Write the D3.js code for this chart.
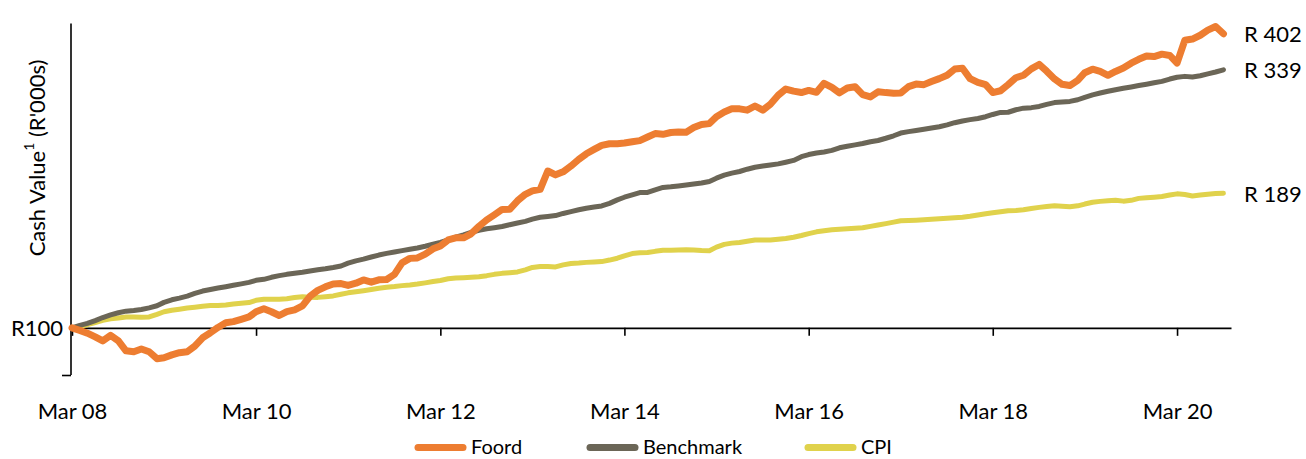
<!DOCTYPE html>
<html>
<head>
<meta charset="utf-8">
<script src="https://cdn.jsdelivr.net/npm/d3@7"></script>
<style>
  html, body { margin: 0; padding: 0; background: #ffffff; }
  svg { display: block; }
  text { font-family: Lato, "Open Sans", sans-serif; fill: #000; }
</style>
</head>
<body>
<svg id="chart" width="1306" height="459"></svg>
<script>
// ---- data (monthly, Mar 2008 .. Sep 2020, R'000s on R100 invested) ----
const startMonth = "2008-03-01";
const foord = [
  100, 98.8, 97.5, 95.8, 94.0, 96.5, 94.0, 89.7, 89.3, 90.5, 89.3, 86.4,
  86.8, 88.0, 88.9, 89.3, 91.7, 95.4, 97.7, 100.2, 102.4, 103.0, 104.1, 105.3,
  107.9, 109.4, 107.9, 106.0, 108.0, 108.9, 110.9, 116.1, 119.4, 121.4, 123.1, 123.3,
  122.2, 123.5, 125.4, 124.1, 125.5, 125.7, 128.8, 136.0, 138.9, 139.2, 141.7, 145.3,
  147.3, 151.6, 153.1, 153.1, 156.0, 161.6, 166.7, 170.7, 175.1, 175.2, 182.4, 188.1,
  191.2, 192.6, 210.0, 206.2, 209.2, 215.0, 221.9, 227.8, 232.6, 237.1, 238.9, 239.0,
  239.7, 241.2, 242.5, 246.6, 250.7, 249.8, 252.0, 252.5, 252.4, 257.9, 261.7, 262.8,
  271.6, 277.6, 281.8, 281.8, 280.1, 285.6, 280.1, 288.0, 300.5, 309.5, 306.4, 304.4,
  307.4, 304.7, 318.0, 312.0, 303.9, 311.0, 312.8, 301.4, 298.2, 305.5, 304.3, 303.4,
  303.7, 313.0, 316.8, 316.0, 320.7, 325.1, 330.4, 340.1, 341.5, 325.1, 319.3, 316.0,
  304.4, 307.0, 316.0, 326.5, 330.4, 340.5, 347.7, 336.7, 324.6, 316.5, 314.6, 322.5,
  334.3, 339.9, 336.4, 330.3, 336.4, 341.8, 349.8, 356.2, 361.9, 360.9, 365.0, 362.8,
  350.0, 390.0, 392.1, 399.2, 409.0, 416.0, 402.0
];
const benchmark = [
  100, 101.2, 102.1, 103.5, 105.0, 106.3, 107.4, 108.2, 108.6, 109.1, 109.9, 111.0,
  112.8, 114.2, 115.1, 116.2, 117.7, 119.0, 119.9, 120.7, 121.5, 122.3, 123.1, 124.0,
  125.2, 125.8, 127.0, 128.0, 128.8, 129.5, 130.1, 130.9, 131.6, 132.2, 133.0, 134.0,
  135.8, 137.3, 138.4, 139.8, 141.1, 142.2, 143.2, 144.1, 145.0, 145.9, 147.1, 148.5,
  149.8, 151.6, 153.6, 155.2, 157.1, 158.7, 159.8, 160.6, 161.5, 162.9, 164.2, 165.5,
  167.2, 168.7, 169.4, 170.1, 171.8, 173.3, 174.8, 176.1, 177.1, 178.0, 180.2, 183.2,
  185.5, 187.6, 189.6, 189.8, 192.1, 194.3, 194.9, 195.7, 196.6, 197.5, 198.4, 199.9,
  203.0, 205.9, 207.9, 209.5, 211.8, 213.8, 215.0, 216.1, 217.2, 218.9, 220.8, 224.7,
  227.0, 228.6, 229.8, 231.5, 234.4, 236.1, 237.6, 239.2, 241.2, 242.6, 245.2, 248.1,
  251.3, 253.0, 254.4, 255.8, 257.3, 258.9, 261.2, 263.9, 266.1, 267.8, 269.3, 271.5,
  274.4, 277.1, 277.3, 280.6, 282.7, 283.4, 285.0, 287.8, 290.3, 291.1, 291.9, 294.2,
  297.6, 301.1, 303.7, 306.2, 308.5, 310.6, 312.5, 314.6, 316.6, 318.8, 320.9, 324.5,
  327.3, 328.6, 327.5, 329.5, 332.5, 335.5, 339.0
];
const cpi = [
  100, 100.7, 101.5, 102.5, 103.6, 104.4, 104.8, 105.3, 105.3, 105.1, 105.3, 106.6,
  107.9, 108.7, 109.2, 109.8, 110.2, 110.7, 111.1, 111.2, 111.4, 111.9, 112.3, 112.7,
  113.9, 114.5, 114.5, 114.5, 114.8, 115.4, 115.8, 115.6, 115.5, 115.9, 116.3, 117.2,
  118.0, 118.6, 119.2, 119.9, 120.6, 121.2, 121.6, 122.1, 122.5, 123.0, 123.7, 124.5,
  125.1, 126.1, 126.6, 126.8, 127.0, 127.3, 128.0, 128.8, 129.4, 129.8, 130.3, 131.6,
  133.1, 133.7, 133.6, 133.4, 134.7, 135.6, 135.9, 136.3, 136.5, 136.8, 137.8, 139.0,
  140.6, 142.1, 142.6, 142.8, 143.6, 144.3, 144.4, 144.6, 144.7, 144.5, 144.1, 144.0,
  146.5, 148.4, 149.3, 149.7, 150.6, 151.5, 151.5, 151.5, 152.0, 152.6, 153.5, 154.8,
  156.2, 157.5, 158.3, 159.0, 159.5, 159.8, 160.1, 160.5, 161.6, 162.6, 163.7, 164.9,
  165.9, 166.2, 166.4, 166.7, 167.1, 167.5, 167.9, 168.4, 168.7, 169.5, 170.5, 171.5,
  172.3, 173.1, 174.0, 174.3, 174.8, 175.9, 176.8, 177.5, 178.1, 177.7, 177.4, 178.1,
  179.6, 181.1, 181.9, 182.4, 182.9, 182.1, 182.8, 184.5, 185.0, 185.5, 186.1, 187.4,
  188.5, 187.9, 186.6, 187.4, 188.2, 188.8, 189.0
];
const seriesNames = ["Foord", "Benchmark", "CPI"];
const endLabels = ["R 402", "R 339", "R 189"];
const tickYears = [2008, 2010, 2012, 2014, 2016, 2018, 2020];
const baseLabel = "R100";

// ---- layout ----
const svg = d3.select("#chart");
const start = new Date(startMonth + "T00:00:00Z");
const dates = foord.map((_, i) => d3.utcMonth.offset(start, i));
const axisEnd = d3.utcMonth.offset(start, foord.length);

const x = d3.scaleUtc().domain([start, axisEnd]).range([72, 1231]);
const y = d3.scaleLog().domain([80, 420]).range([375, 24.5]);

const colors = { Foord: "#ED7D31", Benchmark: "#6B6657", CPI: "#E0D24C" };
const widths = { Foord: 7, Benchmark: 5, CPI: 5 };
const dataMap = { Foord: foord, Benchmark: benchmark, CPI: cpi };
const big = "22px";

// y axis (only line + bottom tick)
const yAxis = d3.axisLeft(y).tickValues([80]).tickSize(9).tickFormat("");
const gy = svg.append("g").attr("transform", "translate(71,0)").call(yAxis);
gy.select(".domain").attr("stroke", "#000").attr("stroke-width", 1.6)
  .attr("d", `M0,${y.range()[1] - 1}V${y.range()[0]}`);
gy.selectAll(".tick line").attr("stroke", "#000").attr("stroke-width", 1.6);

// x axis at R100
const tickDates = tickYears.map(yr => new Date(Date.UTC(yr, 2, 1)));
const xAxis = d3.axisBottom(x).tickValues(tickDates).tickSize(8).tickSizeOuter(0)
  .tickFormat(d3.utcFormat("Mar %y"));
const gx = svg.append("g").attr("transform", `translate(0,${y(100)})`).call(xAxis);
gx.select(".domain").attr("stroke", "#000").attr("stroke-width", 1.6);
gx.selectAll(".tick line").attr("stroke", "#000").attr("stroke-width", 1.6);
gx.selectAll(".tick text").attr("y", 0).attr("dy", null)
  .attr("transform", `translate(0,${410 - y(100)})`)
  .attr("dominant-baseline", "central")
  .style("font-size", big).style("font-family", "Lato, sans-serif").attr("fill", "#000");

// base label
svg.append("text").attr("x", 63).attr("y", y(100)).attr("text-anchor", "end")
  .attr("dominant-baseline", "central").style("font-size", big).text(baseLabel);

// y title
const yt = svg.append("text").attr("transform", "translate(36,158) rotate(-90)")
  .attr("text-anchor", "middle").attr("dominant-baseline", "central").style("font-size", big);
yt.append("tspan").text("Cash Value");
yt.append("tspan").attr("dy", -8).style("font-size", "14px").text("1");
yt.append("tspan").attr("dy", 8).text(" (R'000s)");

// lines (CPI first, Foord on top)
const line = d3.line().x((d, i) => x(dates[i])).y(d => y(d));
["CPI", "Benchmark", "Foord"].forEach(name => {
  svg.append("path").datum(dataMap[name])
    .attr("fill", "none").attr("stroke", colors[name]).attr("stroke-width", widths[name])
    .attr("stroke-linejoin", "round").attr("stroke-linecap", "round")
    .attr("d", line);
});

// end labels
seriesNames.forEach((name, k) => {
  const arr = dataMap[name];
  svg.append("text").attr("x", 1244).attr("y", y(arr[arr.length - 1]))
    .attr("dominant-baseline", "central").style("font-size", big).text(endLabels[k]);
});

// legend
const legX = [418, 590, 808];
seriesNames.forEach((name, k) => {
  svg.append("line").attr("x1", legX[k]).attr("x2", legX[k] + 45)
    .attr("y1", 447.5).attr("y2", 447.5).attr("stroke", colors[name])
    .attr("stroke-width", 7).attr("stroke-linecap", "round");
  svg.append("text").attr("x", legX[k] + 53).attr("y", 446)
    .attr("dominant-baseline", "central").style("font-size", "20px").text(name);
});
</script>
</body>
</html>
